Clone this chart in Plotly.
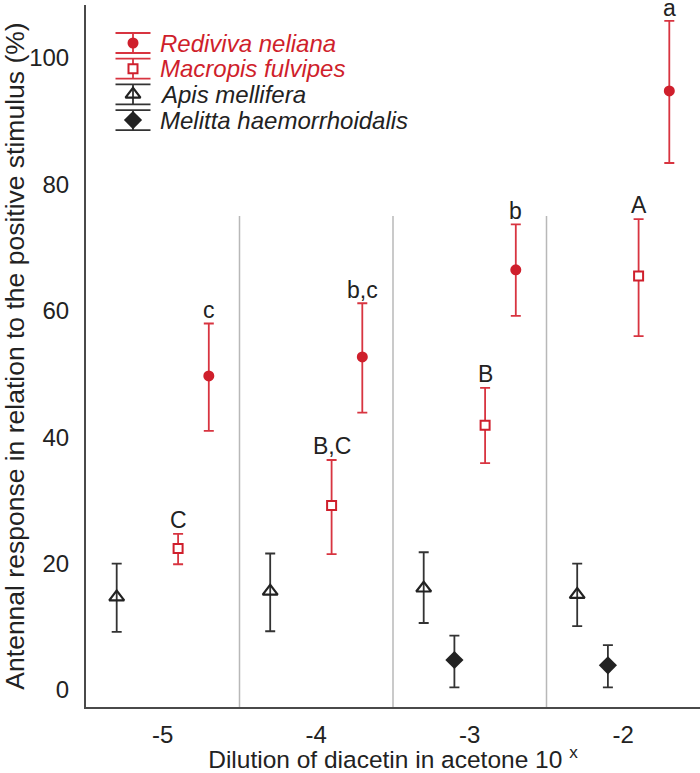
import plotly.graph_objects as go

# ---------------- data ----------------
categories = [-5, -4, -3, -2]
tick_labels = ["-5", "-4", "-3", "-2"]

rediviva_mean = [49.7, 52.7, 66.5, 94.8]
rediviva_upper = [58.0, 61.2, 73.7, 105.9]
rediviva_lower = [41.0, 43.9, 59.2, 83.4]
rediviva_letters = ["c", "b,c", "b", "a"]

macropis_mean = [22.4, 29.2, 41.9, 65.5]
macropis_upper = [24.7, 36.4, 47.8, 74.5]
macropis_lower = [19.9, 21.5, 35.9, 56.0]
macropis_letters = ["C", "B,C", "B", "A"]

apis_mean = [14.7, 15.6, 16.1, 15.1]
apis_upper = [20.0, 21.6, 21.8, 20.0]
apis_lower = [9.2, 9.3, 10.6, 10.1]

melitta_categories = [-3, -2]
melitta_mean = [4.75, 3.9]
melitta_upper = [8.6, 7.1]
melitta_lower = [0.4, 0.4]

y_ticks = [0, 20, 40, 60, 80, 100]

# ---------------- styling ----------------
RED = "#cf1f2c"
RED_ERR = "#d83440"
DARK = "#222222"
DARK_ERR = "#333333"
FONT = "Liberation Sans, Arial, sans-serif"

offsets = {"apis": -0.3, "melitta": -0.1, "macropis": 0.1, "rediviva": 0.3}

fig = go.Figure()


def add_series(cats, mean, upper, lower, off, marker, err_color):
    xs = [c + off for c in cats]
    fig.add_trace(go.Scatter(
        x=xs, y=mean, mode="markers", marker=marker, showlegend=False,
        error_y=dict(type="data", symmetric=False,
                     array=[u - m for u, m in zip(upper, mean)],
                     arrayminus=[m - l for m, l in zip(mean, lower)],
                     color=err_color, thickness=1.8, width=5),
        hoverinfo="skip"))


add_series(categories, apis_mean, apis_upper, apis_lower, offsets["apis"],
           dict(symbol="triangle-up-open", size=13, color=DARK, line=dict(width=2.2, color=DARK)), DARK_ERR)
add_series(melitta_categories, melitta_mean, melitta_upper, melitta_lower, offsets["melitta"],
           dict(symbol="diamond", size=14, color=DARK, line=dict(width=0)), DARK_ERR)
add_series(categories, macropis_mean, macropis_upper, macropis_lower, offsets["macropis"],
           dict(symbol="square", size=9, color="white", line=dict(width=2, color=RED)), RED_ERR)
add_series(categories, rediviva_mean, rediviva_upper, rediviva_lower, offsets["rediviva"],
           dict(symbol="circle", size=11, color=RED, line=dict(width=0)), RED_ERR)

annotations = []
for c, u, t in zip(categories, rediviva_upper, rediviva_letters):
    annotations.append(dict(x=c + offsets["rediviva"], y=u, xref="x", yref="y", text=t,
                            showarrow=False, yanchor="middle", yshift=13,
                            font=dict(family=FONT, size=23, color=DARK)))
for c, u, t in zip(categories, macropis_upper, macropis_letters):
    annotations.append(dict(x=c + offsets["macropis"], y=u, xref="x", yref="y", text=t,
                            showarrow=False, yanchor="middle", yshift=14,
                            font=dict(family=FONT, size=23, color=DARK)))

# vertical separators between dilution groups
shapes = []
y_bottom = -2.69
for c in categories[:-1]:
    shapes.append(dict(type="line", xref="x", yref="y", x0=c + 0.5, x1=c + 0.5,
                       y0=y_bottom, y1=75, line=dict(color="#b8b8b8", width=1.5)))

# ---------------- manual legend (overlay axes in pixel units) ----------------
legend_names = ["Rediviva neliana", "Macropis fulvipes", "Apis mellifera", "Melitta haemorrhoidalis"]
legend_colors = [RED, RED, DARK, DARK]
legend_err_colors = [RED_ERR, RED_ERR, DARK_ERR, DARK_ERR]
legend_markers = [
    dict(symbol="circle", size=11, color=RED, line=dict(width=0)),
    dict(symbol="square", size=9, color="white", line=dict(width=2, color=RED)),
    dict(symbol="triangle-up-open", size=13, color=DARK, line=dict(width=2.2, color=DARK)),
    dict(symbol="diamond", size=14, color=DARK, line=dict(width=0)),
]
leg_x = 47
leg_text_x = 72
leg_y0 = 38
leg_dy = 25.7
for i, (name, col, ecol, mk) in enumerate(zip(legend_names, legend_colors, legend_err_colors, legend_markers)):
    ly = leg_y0 + i * leg_dy
    fig.add_trace(go.Scatter(
        x=[leg_x], y=[ly], xaxis="x2", yaxis="y2", mode="markers", marker=mk,
        showlegend=False, hoverinfo="skip",
        error_y=dict(type="constant", value=10, color=ecol, thickness=1.8, width=17.5)))
    annotations.append(dict(x=leg_text_x, y=ly, xref="x2", yref="y2", text="<i>" + name + "</i>",
                            showarrow=False, xanchor="left", yanchor="middle",
                            font=dict(family=FONT, size=24, color=col)))

fig.update_layout(
    width=700, height=773,
    margin=dict(l=86, r=0, t=5, b=66, autoexpand=False),
    paper_bgcolor="white", plot_bgcolor="white",
    showlegend=False,
    font=dict(family=FONT, color=DARK),
    xaxis=dict(range=[-5.5, -1.5], tickvals=categories, ticktext=tick_labels, automargin=False,
               showgrid=False, zeroline=False, showline=True, linecolor="#4a4a4a", linewidth=2,
               ticks="", tickfont=dict(family=FONT, size=24, color=DARK), ticklabelstandoff=5,
               title=dict(text="Dilution of diacetin in acetone 10 <sup>x</sup>",
                          font=dict(family=FONT, size=24.5, color=DARK), standoff=8)),
    yaxis=dict(range=[y_bottom, 108.4], tickvals=y_ticks, automargin=False,
               showgrid=False, zeroline=False, showline=True, linecolor="#4a4a4a", linewidth=2,
               ticks="", tickfont=dict(family=FONT, size=24, color=DARK), ticklabelstandoff=10,
               title=dict(text="Antennal response in relation to the positive stimulus (%)",
                          font=dict(family=FONT, size=26.5, color=DARK), standoff=4)),
    xaxis2=dict(overlaying="x", anchor="y2", range=[0, 614], visible=False, fixedrange=True),
    yaxis2=dict(overlaying="y", anchor="x2", range=[702, 0], visible=False, fixedrange=True),
    annotations=annotations,
    shapes=shapes,
)

fig.write_html("out.html", config={"displayModeBar": False},
               post_script="document.body.style.margin='0px';document.body.style.overflow='hidden';")
